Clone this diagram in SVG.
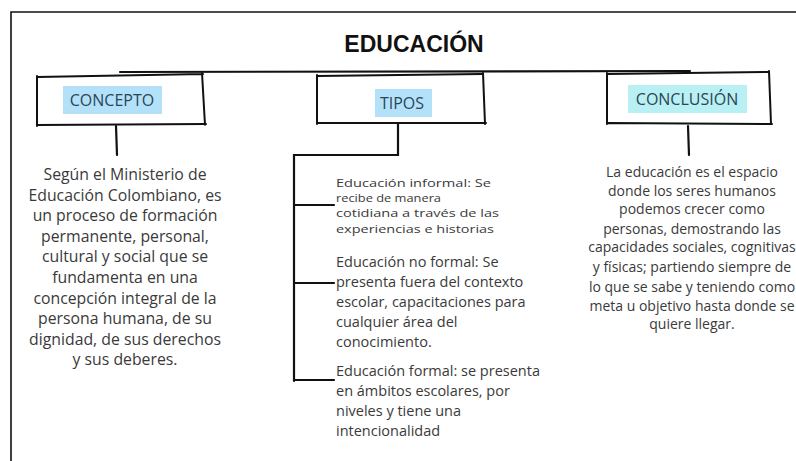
<svg xmlns="http://www.w3.org/2000/svg" width="796" height="461" viewBox="0 0 796 461">
<style>
.frame{fill:none;stroke:#111;stroke-width:1.6}
.sk{fill:none;stroke:#111;stroke-width:2;stroke-linecap:round;stroke-linejoin:round}
.ln{fill:none;stroke:#111;stroke-width:2.2;stroke-linecap:round}
.lbl{font-family:"Open Sans","Noto Sans",sans-serif;font-size:16px;fill:#2a4656;text-anchor:middle}
.body{font-family:"Open Sans","Noto Sans",sans-serif;font-size:14px;fill:#3a3a3a}
.big{font-size:15.8px}
.mid{font-size:14.5px}
.sm{font-size:11.5px}
.c{text-anchor:middle}
.title{font-family:"Liberation Sans",Arial,sans-serif;font-size:23px;font-weight:bold;fill:#111;text-anchor:middle}
</style>
<rect width="796" height="461" fill="#fff"/>
<path class="frame" d="M11,461 L11,12 L796,12"/>
<text class="title" x="414" y="52">EDUCACIÓN</text>

<g id="connectors">
  <path class="ln" d="M120,72 L690,71"/>
  <path class="ln" d="M116,126 L117,155"/>
  <path class="ln" d="M688,126 L689,155"/>
  <path class="ln" d="M398,124 L398,155 L294,155 L294,381"/>
  <path class="ln" d="M294,205 L334,205"/>
  <path class="ln" d="M294,283 L334,283"/>
  <path class="ln" d="M294,380 L334,380"/>
</g>

<g id="concepto">
  <path class="sk" d="M37,77 L203,74 M202,73 L205,125 M206,124 L37,125 M37,126 L37,76"/>
  <rect x="63" y="86" width="99" height="28" fill="#b4e1fa"/>
  <text class="lbl" x="112" y="106">CONCEPTO</text>
</g>

<g id="tipos">
  <path class="sk" d="M317,76 L482,74 M483,73 L485,124 M486,123 L318,123 M317,124 L317,75"/>
  <rect x="375" y="89" width="57" height="28" fill="#b4e1fa"/>
  <text class="lbl" x="402" y="109">TIPOS</text>
</g>

<g id="conclusion">
  <path class="sk" d="M607,74 L768,72 M769,71 L771,124 M772,124 L608,123 M607,124 L607,73"/>
  <rect x="628" y="85" width="119" height="28" fill="#b9f0f3"/>
  <text class="lbl" x="687" y="105">CONCLUSIÓN</text>
</g>

<g id="concepto-text">
  <text class="body big c" x="125" y="180">Según el Ministerio de</text>
  <text class="body big c" x="125" y="201">Educación Colombiano, es</text>
  <text class="body big c" x="125" y="221">un proceso de formación</text>
  <text class="body big c" x="125" y="242">permanente, personal,</text>
  <text class="body big c" x="125" y="262">cultural y social que se</text>
  <text class="body big c" x="125" y="283">fundamenta en una</text>
  <text class="body big c" x="125" y="304">concepción integral de la</text>
  <text class="body big c" x="125" y="324">persona humana, de su</text>
  <text class="body big c" x="125" y="345">dignidad, de sus derechos</text>
  <text class="body big c" x="125" y="365">y sus deberes.</text>
</g>

<g id="tipos-informal">
  <text class="body sm" x="336" y="187" textLength="155" lengthAdjust="spacingAndGlyphs">Educación informal: Se</text>
  <text class="body sm" x="336" y="202" textLength="105" lengthAdjust="spacingAndGlyphs">recibe de manera</text>
  <text class="body sm" x="336" y="217" textLength="163" lengthAdjust="spacingAndGlyphs">cotidiana a través de las</text>
  <text class="body sm" x="336" y="233" textLength="158" lengthAdjust="spacingAndGlyphs">experiencias e historias</text>
</g>
<g id="tipos-noformal">
  <text class="body mid" x="336" y="267">Educación no formal: Se</text>
  <text class="body mid" x="336" y="287">presenta fuera del contexto</text>
  <text class="body mid" x="336" y="307">escolar, capacitaciones para</text>
  <text class="body mid" x="336" y="327">cualquier área del</text>
  <text class="body mid" x="336" y="347">conocimiento.</text>
</g>
<g id="tipos-formal">
  <text class="body mid" x="336" y="376">Educación formal: se presenta</text>
  <text class="body mid" x="336" y="396">en ámbitos escolares, por</text>
  <text class="body mid" x="336" y="416">niveles y tiene una</text>
  <text class="body mid" x="336" y="436">intencionalidad</text>
</g>

<g id="conclusion-text">
  <text class="body c" x="692" y="177">La educación es el espacio</text>
  <text class="body c" x="692" y="196">donde los seres humanos</text>
  <text class="body c" x="692" y="214">podemos crecer como</text>
  <text class="body c" x="692" y="234">personas, demostrando las</text>
  <text class="body c" x="692" y="252">capacidades sociales, cognitivas</text>
  <text class="body c" x="692" y="272">y físicas; partiendo siempre de</text>
  <text class="body c" x="692" y="292">lo que se sabe y teniendo como</text>
  <text class="body c" x="692" y="311">meta u objetivo hasta donde se</text>
  <text class="body c" x="692" y="329">quiere llegar.</text>
</g>
</svg>
